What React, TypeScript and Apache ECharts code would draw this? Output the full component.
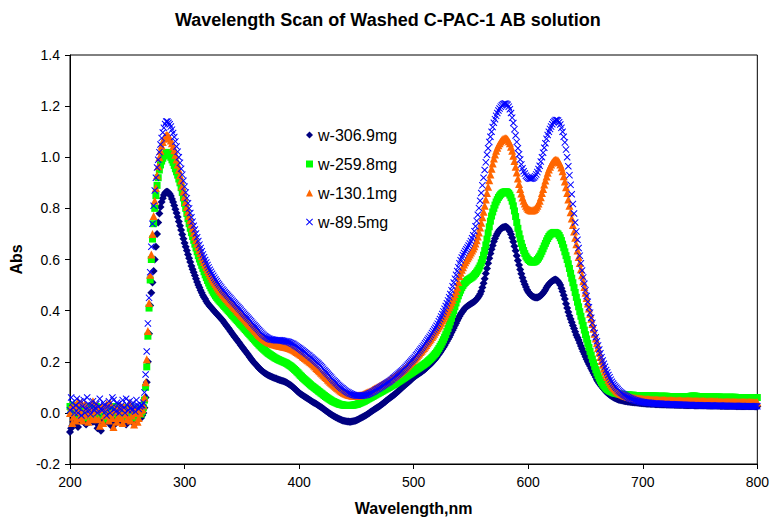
import React, { useEffect, useRef } from "react";
import * as echarts from "echarts";

const TITLE = "Wavelength Scan of Washed C-PAC-1 AB solution";
const X_NAME = "Wavelength,nm";
const Y_NAME = "Abs";
const SERIES_NAMES = ["w-306.9mg", "w-259.8mg", "w-130.1mg", "w-89.5mg"];

// scan from 200 nm to 800 nm, one reading every nm
const WL_START = 200;
const WL_STEP = 1;

const w306_9 = [
  -0.075,-0.06,-0.05,-0.035,-0.02,-0.01,-0.04,-0.055,0.0,-0.025,-0.03,0.0,-0.01,-0.04,-0.045,-0.015,-0.02,-0.035,0.005,-0.02,
  -0.035,-0.005,-0.015,-0.04,-0.06,-0.02,-0.03,-0.07,-0.01,-0.025,-0.04,-0.01,0.0,-0.035,-0.025,-0.005,-0.05,-0.03,-0.015,-0.045,
  -0.03,-0.015,0.005,-0.03,-0.02,-0.005,-0.04,-0.025,-0.01,-0.045,-0.03,-0.01,-0.005,-0.025,-0.035,0.0,-0.015,-0.04,-0.025,-0.01,
  0.0,-0.015,-0.02,-0.01,0.0,0.02,0.06,0.12,0.2,0.31,0.42,0.47,0.51,0.555,0.6,0.65,0.7,0.745,0.78,0.805,
  0.825,0.84,0.852,0.86,0.865,0.865,0.862,0.856,0.848,0.837,0.825,0.811,0.797,0.782,0.766,0.749,0.732,0.715,0.698,0.681,
  0.665,0.65,0.635,0.62,0.605,0.59,0.575,0.562,0.55,0.537,0.525,0.512,0.5,0.49,0.48,0.47,0.46,0.452,0.445,0.437,
  0.43,0.424,0.418,0.413,0.408,0.403,0.398,0.393,0.388,0.383,0.378,0.373,0.368,0.363,0.357,0.351,0.345,0.339,0.333,0.327,
  0.32,0.314,0.308,0.302,0.296,0.29,0.284,0.278,0.272,0.266,0.26,0.254,0.248,0.242,0.236,0.23,0.224,0.218,0.212,0.206,
  0.2,0.195,0.19,0.185,0.18,0.175,0.171,0.167,0.163,0.159,0.156,0.153,0.15,0.147,0.145,0.143,0.141,0.139,0.137,0.135,
  0.134,0.132,0.131,0.129,0.128,0.126,0.125,0.123,0.121,0.119,0.116,0.113,0.11,0.107,0.103,0.099,0.095,0.091,0.087,0.083,
  0.079,0.075,0.072,0.069,0.066,0.063,0.06,0.057,0.054,0.051,0.048,0.045,0.043,0.04,0.038,0.035,0.032,0.029,0.026,0.023,
  0.02,0.016,0.013,0.009,0.006,0.003,0.0,-0.003,-0.006,-0.009,-0.012,-0.014,-0.017,-0.019,-0.022,-0.024,-0.026,-0.028,-0.03,-0.031,
  -0.032,-0.033,-0.034,-0.034,-0.035,-0.035,-0.034,-0.033,-0.032,-0.031,-0.029,-0.027,-0.025,-0.022,-0.02,-0.017,-0.015,-0.012,-0.01,-0.007,
  -0.004,-0.001,0.002,0.005,0.008,0.011,0.014,0.017,0.02,0.023,0.026,0.029,0.033,0.036,0.04,0.043,0.047,0.05,0.054,0.057,
  0.061,0.064,0.068,0.071,0.075,0.079,0.083,0.087,0.091,0.095,0.099,0.103,0.107,0.111,0.115,0.119,0.123,0.127,0.131,0.135,
  0.139,0.142,0.146,0.149,0.152,0.155,0.158,0.161,0.165,0.168,0.172,0.176,0.18,0.184,0.188,0.192,0.197,0.202,0.207,0.212,
  0.218,0.224,0.23,0.236,0.243,0.25,0.257,0.264,0.272,0.28,0.288,0.296,0.305,0.314,0.323,0.332,0.342,0.351,0.36,0.369,
  0.378,0.386,0.393,0.399,0.405,0.41,0.414,0.418,0.421,0.424,0.427,0.43,0.433,0.436,0.44,0.445,0.45,0.457,0.465,0.476,
  0.49,0.507,0.525,0.545,0.565,0.585,0.605,0.623,0.64,0.655,0.67,0.682,0.693,0.702,0.71,0.715,0.72,0.723,0.726,0.727,
  0.728,0.727,0.724,0.718,0.71,0.699,0.685,0.669,0.652,0.634,0.615,0.596,0.578,0.561,0.544,0.529,0.515,0.503,0.492,0.482,
  0.474,0.468,0.462,0.458,0.455,0.453,0.451,0.451,0.451,0.453,0.455,0.459,0.463,0.469,0.475,0.482,0.49,0.497,0.503,0.508,
  0.512,0.516,0.519,0.521,0.522,0.519,0.515,0.508,0.5,0.488,0.475,0.46,0.445,0.427,0.41,0.395,0.38,0.367,0.355,0.342,
  0.33,0.317,0.305,0.295,0.285,0.273,0.262,0.251,0.24,0.23,0.22,0.21,0.2,0.191,0.183,0.174,0.165,0.156,0.148,0.139,
  0.13,0.123,0.116,0.11,0.104,0.098,0.093,0.088,0.083,0.079,0.075,0.071,0.068,0.065,0.062,0.059,0.057,0.055,0.053,0.051,
  0.05,0.049,0.048,0.047,0.046,0.045,0.045,0.044,0.044,0.043,0.043,0.042,0.042,0.041,0.041,0.04,0.04,0.039,0.039,0.038,
  0.038,0.037,0.037,0.036,0.036,0.036,0.036,0.035,0.035,0.035,0.035,0.034,0.034,0.034,0.034,0.033,0.033,0.033,0.033,0.033,
  0.033,0.032,0.032,0.032,0.032,0.032,0.032,0.032,0.031,0.031,0.031,0.031,0.031,0.031,0.031,0.031,0.03,0.03,0.03,0.03,
  0.03,0.03,0.03,0.03,0.03,0.029,0.029,0.029,0.029,0.029,0.029,0.029,0.029,0.029,0.029,0.029,0.028,0.028,0.028,0.028,
  0.028,0.028,0.028,0.028,0.028,0.028,0.028,0.028,0.027,0.027,0.027,0.027,0.027,0.027,0.027,0.027,0.027,0.027,0.027,0.027,
  0.027,0.027,0.026,0.026,0.026,0.026,0.026,0.026,0.026,0.026,0.026,0.026,0.026,0.026,0.026,0.026,0.026,0.026,0.025,0.025,
  0.025,
];

const w259_8 = [
  0.025,0.01,0.0,0.03,0.015,-0.005,-0.01,0.005,0.02,0.0,0.005,0.02,-0.02,-0.005,0.01,-0.015,0.025,0.01,-0.005,0.02,
  0.015,0.0,-0.015,0.025,0.005,-0.01,0.02,0.005,-0.01,0.015,0.01,-0.005,-0.025,0.01,0.005,-0.02,0.02,0.0,-0.005,0.025,
  0.01,0.025,-0.02,0.0,0.015,-0.01,0.0,0.02,-0.015,0.005,0.02,-0.005,-0.01,0.025,0.01,-0.01,-0.02,0.015,0.005,-0.015,
  0.015,0.005,-0.005,0.005,0.02,0.05,0.1,0.18,0.3,0.41,0.52,0.6,0.68,0.74,0.8,0.85,0.89,0.92,0.95,0.97,
  0.985,0.996,1.005,1.012,1.018,1.019,1.015,1.008,1.0,0.99,0.98,0.968,0.955,0.943,0.93,0.915,0.9,0.881,0.862,0.841,
  0.82,0.8,0.78,0.76,0.74,0.722,0.705,0.69,0.675,0.66,0.645,0.63,0.615,0.602,0.59,0.577,0.565,0.552,0.54,0.529,
  0.518,0.508,0.498,0.489,0.48,0.472,0.465,0.458,0.452,0.446,0.441,0.436,0.431,0.426,0.421,0.416,0.411,0.406,0.401,0.396,
  0.391,0.386,0.381,0.376,0.371,0.366,0.361,0.356,0.351,0.346,0.341,0.336,0.331,0.326,0.321,0.316,0.311,0.306,0.301,0.296,
  0.291,0.286,0.281,0.276,0.271,0.266,0.262,0.257,0.253,0.249,0.245,0.241,0.237,0.233,0.23,0.227,0.224,0.221,0.218,0.215,
  0.213,0.21,0.208,0.206,0.204,0.202,0.2,0.198,0.196,0.194,0.191,0.188,0.185,0.182,0.178,0.174,0.17,0.166,0.161,0.157,
  0.152,0.147,0.143,0.138,0.134,0.13,0.126,0.122,0.118,0.114,0.11,0.106,0.103,0.099,0.096,0.092,0.089,0.085,0.082,0.078,
  0.075,0.071,0.068,0.064,0.061,0.058,0.055,0.052,0.049,0.046,0.044,0.042,0.04,0.038,0.036,0.034,0.033,0.032,0.031,0.03,
  0.03,0.029,0.029,0.029,0.029,0.029,0.03,0.03,0.031,0.032,0.033,0.034,0.036,0.038,0.04,0.042,0.044,0.046,0.049,0.051,
  0.054,0.056,0.059,0.061,0.064,0.066,0.069,0.071,0.074,0.076,0.079,0.081,0.084,0.086,0.089,0.091,0.094,0.096,0.099,0.101,
  0.104,0.106,0.109,0.111,0.114,0.117,0.12,0.123,0.126,0.129,0.132,0.135,0.138,0.141,0.144,0.147,0.15,0.153,0.156,0.159,
  0.162,0.165,0.168,0.171,0.174,0.177,0.18,0.183,0.186,0.189,0.193,0.196,0.2,0.204,0.208,0.212,0.217,0.222,0.227,0.232,
  0.238,0.245,0.252,0.26,0.268,0.277,0.286,0.296,0.306,0.318,0.33,0.343,0.356,0.37,0.385,0.4,0.415,0.43,0.445,0.458,
  0.47,0.48,0.49,0.498,0.505,0.51,0.515,0.519,0.522,0.525,0.528,0.531,0.535,0.54,0.545,0.551,0.558,0.566,0.575,0.587,
  0.6,0.617,0.635,0.657,0.68,0.704,0.728,0.75,0.77,0.786,0.8,0.813,0.825,0.834,0.843,0.849,0.855,0.859,0.862,0.864,
  0.865,0.865,0.863,0.859,0.852,0.842,0.828,0.81,0.79,0.768,0.745,0.722,0.7,0.681,0.663,0.648,0.635,0.623,0.613,0.606,
  0.6,0.596,0.592,0.59,0.59,0.59,0.592,0.595,0.6,0.606,0.613,0.622,0.632,0.642,0.653,0.663,0.673,0.682,0.69,0.696,
  0.7,0.703,0.705,0.706,0.705,0.703,0.7,0.694,0.685,0.674,0.66,0.646,0.63,0.615,0.6,0.583,0.565,0.546,0.527,0.509,
  0.49,0.471,0.452,0.433,0.415,0.396,0.378,0.36,0.342,0.324,0.306,0.289,0.272,0.256,0.24,0.225,0.21,0.196,0.182,0.169,
  0.157,0.146,0.136,0.127,0.119,0.112,0.106,0.101,0.096,0.092,0.089,0.086,0.084,0.082,0.08,0.078,0.077,0.076,0.075,0.074,
  0.073,0.073,0.072,0.072,0.071,0.071,0.07,0.07,0.07,0.069,0.069,0.069,0.069,0.068,0.068,0.068,0.068,0.067,0.067,0.067,
  0.067,0.067,0.067,0.067,0.066,0.066,0.066,0.066,0.066,0.066,0.066,0.066,0.065,0.065,0.065,0.065,0.065,0.065,0.065,0.065,
  0.065,0.065,0.064,0.064,0.064,0.064,0.064,0.064,0.064,0.064,0.064,0.064,0.064,0.064,0.063,0.063,0.063,0.063,0.063,0.063,
  0.064,0.064,0.065,0.066,0.066,0.066,0.065,0.065,0.064,0.064,0.063,0.063,0.063,0.063,0.063,0.063,0.062,0.062,0.062,0.062,
  0.062,0.062,0.062,0.062,0.062,0.062,0.062,0.062,0.061,0.061,0.061,0.061,0.061,0.061,0.061,0.061,0.061,0.061,0.061,0.061,
  0.061,0.061,0.06,0.06,0.06,0.06,0.06,0.06,0.06,0.06,0.06,0.06,0.06,0.06,0.06,0.06,0.06,0.06,0.06,0.06,
  0.06,
];

const w130_1 = [
  0.0,0.025,-0.04,-0.015,0.03,-0.03,0.01,0.045,-0.02,0.005,0.04,-0.03,-0.01,0.035,0.02,-0.005,-0.035,0.0,0.015,-0.025,
  0.045,0.005,-0.02,0.03,0.01,-0.025,-0.05,0.015,0.025,-0.04,-0.01,0.02,0.035,-0.005,-0.03,0.04,0.0,-0.02,-0.055,0.01,
  0.02,-0.035,-0.015,0.005,0.03,-0.02,-0.04,0.025,0.01,-0.005,-0.025,0.015,0.04,-0.03,-0.01,0.02,-0.045,0.0,0.015,-0.035,
  -0.02,0.0,0.01,0.015,0.03,0.06,0.12,0.21,0.32,0.43,0.54,0.62,0.7,0.77,0.83,0.88,0.93,0.965,1.0,1.025,
  1.045,1.06,1.072,1.081,1.087,1.086,1.082,1.075,1.066,1.055,1.042,1.027,1.01,0.991,0.972,0.951,0.93,0.909,0.887,0.866,
  0.845,0.825,0.805,0.787,0.77,0.754,0.738,0.721,0.705,0.69,0.676,0.663,0.65,0.637,0.625,0.613,0.601,0.59,0.58,0.57,
  0.56,0.551,0.542,0.534,0.526,0.518,0.511,0.504,0.497,0.49,0.484,0.478,0.472,0.466,0.461,0.455,0.45,0.445,0.44,0.435,
  0.43,0.425,0.42,0.415,0.41,0.405,0.4,0.395,0.39,0.385,0.38,0.375,0.37,0.365,0.36,0.355,0.35,0.345,0.34,0.335,
  0.33,0.325,0.32,0.315,0.31,0.305,0.301,0.297,0.293,0.289,0.286,0.283,0.28,0.277,0.275,0.273,0.271,0.269,0.268,0.267,
  0.266,0.265,0.264,0.263,0.262,0.261,0.26,0.259,0.258,0.257,0.256,0.254,0.253,0.251,0.249,0.247,0.244,0.241,0.238,0.235,
  0.232,0.229,0.226,0.222,0.219,0.215,0.212,0.208,0.205,0.201,0.198,0.194,0.19,0.185,0.181,0.176,0.172,0.167,0.163,0.158,
  0.154,0.149,0.145,0.14,0.136,0.131,0.127,0.122,0.118,0.114,0.11,0.106,0.102,0.098,0.095,0.091,0.088,0.085,0.082,0.079,
  0.077,0.075,0.073,0.071,0.07,0.069,0.068,0.067,0.067,0.067,0.067,0.067,0.068,0.069,0.07,0.071,0.073,0.075,0.077,0.079,
  0.081,0.083,0.085,0.087,0.09,0.092,0.095,0.097,0.1,0.102,0.105,0.107,0.11,0.112,0.115,0.117,0.12,0.123,0.126,0.129,
  0.132,0.135,0.138,0.141,0.144,0.147,0.151,0.154,0.158,0.161,0.165,0.169,0.173,0.177,0.181,0.185,0.19,0.194,0.199,0.203,
  0.208,0.212,0.217,0.222,0.227,0.232,0.238,0.243,0.249,0.254,0.26,0.266,0.272,0.278,0.284,0.29,0.297,0.303,0.31,0.317,
  0.324,0.331,0.338,0.345,0.353,0.361,0.369,0.377,0.386,0.395,0.404,0.413,0.423,0.433,0.443,0.454,0.465,0.477,0.49,0.512,
  0.535,0.548,0.56,0.57,0.58,0.589,0.597,0.605,0.612,0.62,0.627,0.635,0.643,0.652,0.663,0.675,0.69,0.706,0.725,0.744,
  0.765,0.787,0.81,0.835,0.86,0.885,0.91,0.933,0.955,0.976,0.995,1.011,1.025,1.037,1.047,1.055,1.062,1.067,1.071,1.073,
  1.074,1.073,1.07,1.063,1.055,1.041,1.025,1.006,0.985,0.963,0.94,0.917,0.895,0.876,0.858,0.843,0.83,0.819,0.81,0.803,
  0.798,0.795,0.793,0.792,0.793,0.795,0.798,0.803,0.81,0.819,0.83,0.844,0.86,0.876,0.893,0.909,0.925,0.939,0.952,0.963,
  0.972,0.979,0.985,0.988,0.99,0.989,0.987,0.98,0.972,0.96,0.945,0.926,0.905,0.883,0.86,0.835,0.81,0.785,0.76,0.735,
  0.71,0.685,0.66,0.635,0.61,0.586,0.562,0.538,0.515,0.492,0.47,0.449,0.428,0.408,0.388,0.368,0.348,0.329,0.31,0.291,
  0.272,0.254,0.236,0.219,0.203,0.188,0.174,0.162,0.15,0.14,0.13,0.122,0.114,0.107,0.101,0.096,0.091,0.087,0.083,0.08,
  0.077,0.074,0.072,0.07,0.068,0.066,0.065,0.063,0.062,0.061,0.06,0.059,0.058,0.058,0.057,0.057,0.056,0.056,0.055,0.055,
  0.054,0.054,0.053,0.053,0.053,0.053,0.052,0.052,0.052,0.052,0.051,0.051,0.051,0.051,0.05,0.05,0.05,0.05,0.05,0.05,
  0.049,0.049,0.049,0.049,0.049,0.049,0.048,0.048,0.048,0.048,0.048,0.048,0.048,0.048,0.047,0.047,0.047,0.047,0.047,0.047,
  0.047,0.047,0.047,0.047,0.046,0.046,0.046,0.046,0.046,0.046,0.046,0.046,0.046,0.046,0.045,0.045,0.045,0.045,0.045,0.045,
  0.045,0.045,0.045,0.045,0.045,0.045,0.044,0.044,0.044,0.044,0.044,0.044,0.044,0.044,0.044,0.044,0.044,0.044,0.044,0.044,
  0.043,0.043,0.043,0.043,0.043,0.043,0.043,0.043,0.043,0.043,0.043,0.043,0.043,0.043,0.042,0.042,0.042,0.042,0.042,0.042,
  0.042,
];

const w89_5 = [
  0.01,0.06,0.04,0.02,0.0,0.03,0.055,0.0,0.02,0.045,-0.01,0.025,0.05,0.0,0.015,0.06,0.035,0.01,-0.005,0.03,
  0.045,0.01,0.02,0.035,0.0,0.025,0.055,0.015,0.01,0.04,0.03,0.005,-0.01,0.025,0.045,0.0,0.02,0.06,0.05,0.015,
  0.005,0.04,0.035,0.0,0.015,0.03,0.05,0.02,0.0,0.055,0.03,0.01,0.045,0.02,0.01,0.04,0.025,0.005,0.05,0.03,
  0.015,0.025,0.03,0.03,0.04,0.08,0.15,0.24,0.35,0.45,0.55,0.65,0.74,0.81,0.87,0.92,0.96,0.99,1.02,1.05,
  1.075,1.097,1.115,1.13,1.14,1.14,1.135,1.129,1.12,1.108,1.095,1.079,1.062,1.042,1.022,1.0,0.978,0.955,0.932,0.908,
  0.885,0.862,0.84,0.82,0.8,0.782,0.765,0.748,0.732,0.717,0.702,0.687,0.672,0.658,0.645,0.632,0.62,0.609,0.598,0.588,
  0.578,0.569,0.56,0.552,0.544,0.536,0.529,0.522,0.515,0.508,0.502,0.496,0.49,0.484,0.479,0.473,0.468,0.463,0.458,0.453,
  0.448,0.443,0.438,0.433,0.428,0.423,0.418,0.413,0.408,0.403,0.398,0.393,0.388,0.383,0.378,0.373,0.368,0.363,0.358,0.353,
  0.348,0.343,0.338,0.333,0.328,0.323,0.318,0.313,0.309,0.305,0.301,0.298,0.295,0.292,0.29,0.288,0.287,0.286,0.285,0.285,
  0.284,0.284,0.284,0.284,0.283,0.283,0.282,0.281,0.28,0.279,0.278,0.277,0.275,0.273,0.271,0.269,0.266,0.263,0.26,0.257,
  0.254,0.251,0.247,0.244,0.24,0.237,0.233,0.23,0.226,0.223,0.219,0.216,0.212,0.208,0.204,0.2,0.196,0.192,0.187,0.183,
  0.178,0.173,0.168,0.163,0.158,0.153,0.148,0.143,0.138,0.133,0.128,0.124,0.119,0.115,0.11,0.106,0.102,0.098,0.095,0.091,
  0.088,0.085,0.082,0.08,0.077,0.075,0.073,0.071,0.07,0.069,0.068,0.067,0.067,0.067,0.067,0.067,0.068,0.069,0.07,0.071,
  0.073,0.075,0.077,0.079,0.082,0.084,0.087,0.089,0.092,0.094,0.097,0.1,0.103,0.106,0.109,0.112,0.115,0.118,0.121,0.124,
  0.128,0.131,0.135,0.138,0.142,0.146,0.15,0.154,0.158,0.162,0.166,0.17,0.175,0.179,0.184,0.189,0.194,0.199,0.204,0.209,
  0.214,0.219,0.225,0.23,0.236,0.242,0.248,0.254,0.26,0.266,0.272,0.278,0.285,0.291,0.298,0.305,0.312,0.319,0.326,0.333,
  0.341,0.349,0.358,0.367,0.377,0.387,0.397,0.407,0.418,0.429,0.44,0.452,0.465,0.48,0.495,0.51,0.525,0.54,0.555,0.57,
  0.585,0.597,0.608,0.617,0.625,0.633,0.64,0.647,0.655,0.663,0.672,0.683,0.695,0.711,0.73,0.751,0.775,0.801,0.83,0.86,
  0.89,0.92,0.95,0.98,1.01,1.035,1.06,1.08,1.1,1.118,1.135,1.149,1.162,1.173,1.183,1.191,1.198,1.203,1.207,1.209,
  1.21,1.208,1.205,1.198,1.188,1.173,1.155,1.134,1.11,1.085,1.06,1.035,1.012,0.991,0.972,0.957,0.945,0.936,0.928,0.923,
  0.919,0.917,0.916,0.917,0.918,0.921,0.926,0.933,0.942,0.954,0.967,0.983,1.0,1.018,1.037,1.055,1.072,1.087,1.1,1.111,
  1.12,1.129,1.137,1.142,1.146,1.146,1.144,1.137,1.128,1.115,1.1,1.08,1.058,1.03,1.0,0.965,0.93,0.892,0.855,0.817,
  0.78,0.745,0.71,0.677,0.645,0.615,0.585,0.557,0.53,0.505,0.48,0.457,0.435,0.413,0.392,0.372,0.352,0.332,0.312,0.296,
  0.28,0.264,0.248,0.233,0.218,0.205,0.192,0.18,0.168,0.158,0.148,0.139,0.13,0.122,0.115,0.109,0.103,0.098,0.093,0.088,
  0.084,0.08,0.077,0.073,0.07,0.067,0.064,0.061,0.059,0.057,0.055,0.053,0.051,0.049,0.048,0.047,0.046,0.045,0.044,0.043,
  0.042,0.042,0.041,0.041,0.04,0.04,0.039,0.039,0.038,0.038,0.037,0.037,0.037,0.036,0.036,0.036,0.036,0.035,0.035,0.035,
  0.035,0.035,0.034,0.034,0.034,0.034,0.033,0.033,0.033,0.033,0.033,0.033,0.032,0.032,0.032,0.032,0.032,0.032,0.031,0.031,
  0.031,0.031,0.031,0.031,0.03,0.03,0.03,0.03,0.03,0.03,0.03,0.03,0.029,0.029,0.029,0.029,0.029,0.029,0.029,0.029,
  0.029,0.029,0.028,0.028,0.028,0.028,0.028,0.028,0.028,0.028,0.028,0.028,0.028,0.028,0.027,0.027,0.027,0.027,0.027,0.027,
  0.027,0.027,0.027,0.027,0.027,0.027,0.027,0.027,0.026,0.026,0.026,0.026,0.026,0.026,0.026,0.026,0.026,0.026,0.026,0.026,
  0.026,
];

const SERIES_VALUES = [w306_9, w259_8, w130_1, w89_5];
const COLORS = ["#000080", "#00FF00", "#FF6600", "#0000FF"];
const CROSS = "path://M0,1L1,0L5,4L9,0L10,1L6,5L10,9L9,10L5,6L1,10L0,9L4,5Z";
const SYMBOLS = ["diamond", "rect", "triangle", CROSS];
const SYMBOL_SIZES = [8, 7, 8, 7];

const FONT = "'Liberation Sans', Arial, Helvetica, sans-serif";

export default function App() {
  const ref = useRef<HTMLDivElement>(null);
  useEffect(() => {
    if (!ref.current) return;
    const chart = echarts.init(ref.current, null, { renderer: "svg" });
    const series = SERIES_NAMES.map((name, k) => ({
      name,
      type: "scatter",
      symbol: SYMBOLS[k],
      symbolSize: SYMBOL_SIZES[k],
      itemStyle: { color: COLORS[k], opacity: 1 },
      emphasis: { disabled: true },
      data: SERIES_VALUES[k].map((v, i) => [WL_START + i * WL_STEP, v]),
    }));
    chart.setOption({
      animation: false,
      backgroundColor: "#fff",
      textStyle: { fontFamily: FONT },
      title: {
        text: TITLE,
        left: 170,
        top: 6,
        textStyle: { fontFamily: FONT, fontSize: 18, fontWeight: "bold", color: "#000" },
      },
      legend: {
        orient: "vertical",
        left: 301,
        top: 122,
        itemWidth: 7,
        itemHeight: 7,
        itemGap: 13,
        textStyle: { fontFamily: FONT, fontSize: 16, color: "#000" },
        data: SERIES_NAMES,
      },
      grid: {
        left: 70,
        right: 13,
        top: 55,
        bottom: 59,
        show: true,
        borderColor: "#000",
        borderWidth: 1,
        backgroundColor: "#fff",
      },
      xAxis: {
        type: "value",
        min: 200,
        max: 800,
        interval: 100,
        name: X_NAME,
        nameLocation: "middle",
        nameGap: 36,
        nameTextStyle: { fontFamily: FONT, fontSize: 16, fontWeight: "bold", color: "#000" },
        axisLine: { show: true, onZero: false, lineStyle: { color: "#000", width: 1 } },
        axisTick: { show: true, inside: false, length: 5, lineStyle: { color: "#000" } },
        axisLabel: { fontFamily: FONT, fontSize: 14, color: "#000", margin: 11 },
        splitLine: { show: false },
      },
      yAxis: {
        type: "value",
        min: -0.2,
        max: 1.4,
        interval: 0.2,
        name: Y_NAME,
        nameLocation: "middle",
        nameGap: 44,
        nameRotate: 90,
        nameTextStyle: { fontFamily: FONT, fontSize: 16, fontWeight: "bold", color: "#000" },
        axisLine: { show: true, onZero: false, lineStyle: { color: "#000", width: 1 } },
        axisTick: { show: true, inside: false, length: 5, lineStyle: { color: "#000" } },
        axisLabel: {
          fontFamily: FONT,
          fontSize: 14,
          color: "#000",
          margin: 10,
          formatter: (v: number) => v.toFixed(1),
        },
        splitLine: { show: false },
      },
      series,
    });
    return () => chart.dispose();
  }, []);
  return (
    <div
      ref={ref}
      style={{ position: "absolute", left: 0, top: 0, width: 772, height: 523 }}
    />
  );
}
